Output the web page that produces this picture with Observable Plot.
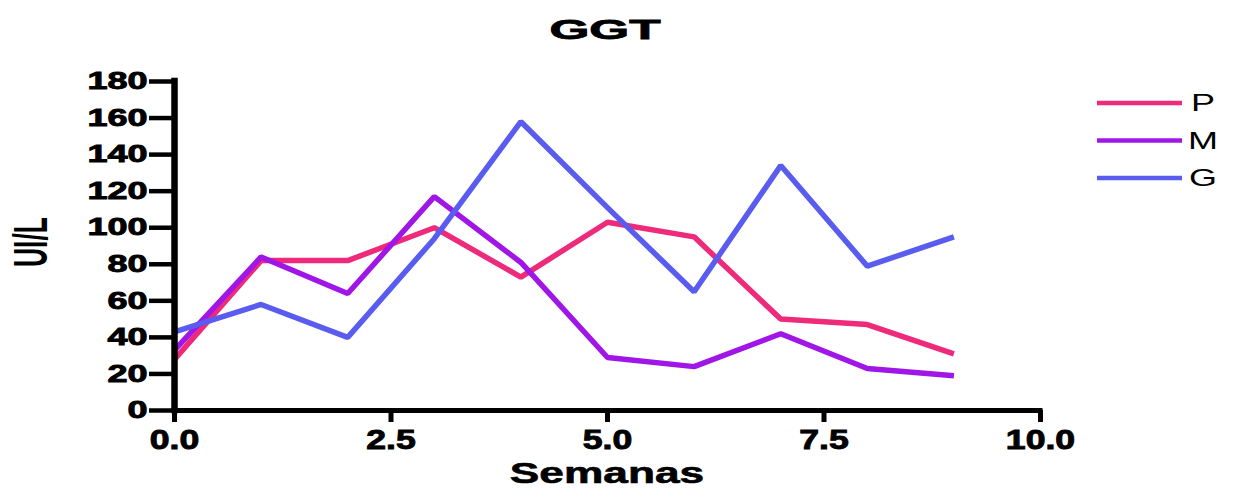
<!DOCTYPE html>
<html>
<head>
<meta charset="utf-8">
<script src="https://cdn.jsdelivr.net/npm/d3@7"></script>
<script src="https://cdn.jsdelivr.net/npm/@observablehq/plot@0.6"></script>
<style>
  html, body { margin: 0; padding: 0; background: #fff; }
  #chart { width: 1235px; height: 489px; }
</style>
</head>
<body>
<div id="chart"></div>
<script>
// ---- data ----
const weeks = [0, 1, 2, 3, 4, 5, 6, 7, 8, 9];
const seriesP = [28, 82, 82, 100, 73, 103, 95, 50, 47, 31];
const seriesM = [33, 84, 64, 117, 81, 29, 24, 42, 23, 19];
const seriesG = [43, 58, 40, 94, 158, 111, 65, 134, 79, 95];
const seriesNames = ["P", "M", "G"];
const seriesColors = ["#EE2A7B", "#A016E6", "#5A5CF0"];
const xTicks = [0, 2.5, 5, 7.5, 10];
const yTicks = [0, 20, 40, 60, 80, 100, 120, 140, 160, 180];
const titleText = "GGT";
const xLabel = "Semanas";
const yLabel = "UI/L";

const seriesValues = [seriesP, seriesM, seriesG];
const rows = [];
seriesNames.forEach((name, k) => {
  weeks.forEach((w, i) => rows.push({week: w, value: seriesValues[k][i], series: name}));
});

const W = 1235, H = 489;
const plot = Plot.plot({
  width: W,
  height: H,
  marginLeft: 174,
  marginRight: 195,
  marginTop: 81,
  marginBottom: 79,
  style: {fontFamily: "'Liberation Sans', Arial, sans-serif", color: "#000", background: "#fff"},
  x: {domain: [0, 10]},
  y: {domain: [0, 180]},
  color: {domain: seriesNames, range: seriesColors},
  marks: [
    Plot.axisY({ticks: yTicks, tickSize: 25, tickPadding: 2, strokeWidth: 4.5, fontSize: 24, fontWeight: "bold", label: null}),
    Plot.axisX({ticks: xTicks, tickFormat: d3.format(".1f"), tickSize: 12, tickPadding: 7, strokeWidth: 5, fontSize: 27, fontWeight: "bold", label: null}),
    Plot.line(rows, {x: "week", y: "value", z: "series", stroke: "series", strokeWidth: 5.5, strokeLinejoin: "miter", strokeLinecap: "butt"}),
    Plot.ruleX([0], {strokeWidth: 6.5, strokeLinecap: "square"}),
    Plot.ruleY([0], {strokeWidth: 5, strokeLinecap: "square"})
  ]
});
document.getElementById("chart").appendChild(plot);

// horizontal stretch for text to mimic the reference's wide, heavy lettering
function stretch(sel, sx, sw) {
  sel.each(function() {
    const t = this.getAttribute("transform");
    if (t) {
      this.setAttribute("transform", t + ` scale(${sx},1)`);
    } else {
      const x = +this.getAttribute("x") || 0, y = +this.getAttribute("y") || 0;
      this.removeAttribute("x"); this.removeAttribute("y");
      this.setAttribute("transform", `translate(${x},${y}) scale(${sx},1)`);
    }
    if (sw) {
      this.setAttribute("stroke", "#000");
      this.setAttribute("stroke-width", sw);
      this.setAttribute("paint-order", "stroke");
    }
  });
}
const svg = d3.select(plot);
stretch(svg.selectAll('g[aria-label="y-axis tick label"] text'), 1.5, 0.9);
stretch(svg.selectAll('g[aria-label="x-axis tick label"] text'), 1.32, 0.9);

const font = "'Liberation Sans', Arial, sans-serif";
// title
svg.append("text")
  .attr("transform", "translate(605,39) scale(1.9,1)")
  .attr("text-anchor", "middle")
  .attr("font-family", font).attr("font-weight", "bold").attr("font-size", 27)
  .attr("fill", "#000").attr("stroke", "#000").attr("stroke-width", 0.8)
  .text(titleText);
// x label
svg.append("text")
  .attr("transform", "translate(607,482.5) scale(1.5,1)")
  .attr("text-anchor", "middle")
  .attr("font-family", font).attr("font-weight", "bold").attr("font-size", 29.5)
  .attr("fill", "#000").attr("stroke", "#000").attr("stroke-width", 0.6)
  .text(xLabel);
// y label
svg.append("text")
  .attr("transform", "translate(47,242) rotate(-90) scale(0.54,1)")
  .attr("text-anchor", "middle")
  .attr("font-family", font).attr("font-weight", "bold").attr("font-size", 49)
  .attr("fill", "#000").text(yLabel);

// legend
const legend = svg.append("g").attr("aria-label", "legend");
seriesNames.forEach((name, i) => {
  const cy = 103 + i * 37.5;
  legend.append("line")
    .attr("x1", 1097).attr("x2", 1182).attr("y1", cy).attr("y2", cy)
    .attr("stroke", seriesColors[i]).attr("stroke-width", 4.5);
  legend.append("text")
    .attr("transform", `translate(1203,${cy + 8}) scale(1.5,1)`)
    .attr("font-family", font).attr("font-size", 24)
    .attr("fill", "#000").text(name);
});
</script>
</body>
</html>
